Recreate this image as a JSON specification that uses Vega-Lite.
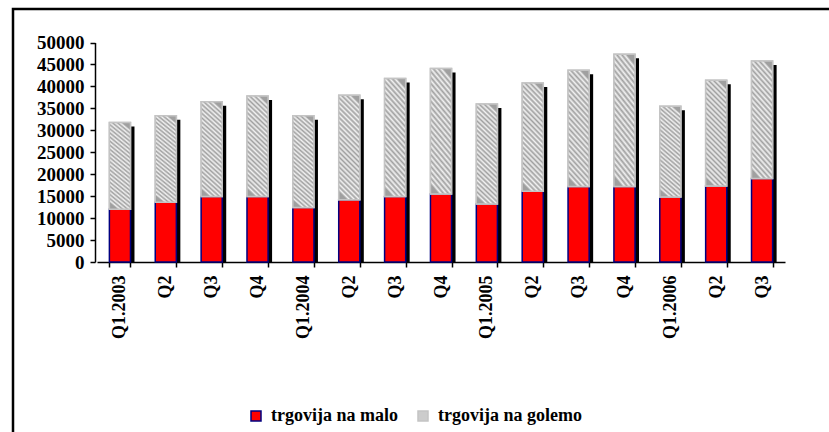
{
  "$schema": "https://vega.github.io/schema/vega-lite/v6.json",
  "width": 820,
  "height": 427,
  "autosize": {"type": "none"},
  "padding": {"left": 13, "top": 9, "right": -4, "bottom": -4},
  "background": "white",
  "config": {
    "view": {"stroke": "black", "strokeWidth": 2.5},
    "axis": {
      "domainColor": "black",
      "domainWidth": 1.5,
      "tickColor": "black",
      "tickWidth": 1.5,
      "tickSize": 5,
      "labelColor": "black",
      "labelFont": "Liberation Serif",
      "labelFontWeight": "bold",
      "titleOpacity": 0,
      "titleFontSize": 1,
      "grid": false
    }
  },
  "data": {
    "values": [
      {"quarter": "Q1.2003", "series": "trgovija na malo", "value": 12000},
      {"quarter": "Q1.2003", "series": "trgovija na golemo", "value": 19800},
      {"quarter": "Q2.2003", "series": "trgovija na malo", "value": 13600},
      {"quarter": "Q2.2003", "series": "trgovija na golemo", "value": 19700},
      {"quarter": "Q3.2003", "series": "trgovija na malo", "value": 14900},
      {"quarter": "Q3.2003", "series": "trgovija na golemo", "value": 21600},
      {"quarter": "Q4.2003", "series": "trgovija na malo", "value": 14900},
      {"quarter": "Q4.2003", "series": "trgovija na golemo", "value": 22900},
      {"quarter": "Q1.2004", "series": "trgovija na malo", "value": 12400},
      {"quarter": "Q1.2004", "series": "trgovija na golemo", "value": 20900},
      {"quarter": "Q2.2004", "series": "trgovija na malo", "value": 14200},
      {"quarter": "Q2.2004", "series": "trgovija na golemo", "value": 23800},
      {"quarter": "Q3.2004", "series": "trgovija na malo", "value": 14900},
      {"quarter": "Q3.2004", "series": "trgovija na golemo", "value": 26900},
      {"quarter": "Q4.2004", "series": "trgovija na malo", "value": 15500},
      {"quarter": "Q4.2004", "series": "trgovija na golemo", "value": 28600},
      {"quarter": "Q1.2005", "series": "trgovija na malo", "value": 13200},
      {"quarter": "Q1.2005", "series": "trgovija na golemo", "value": 22800},
      {"quarter": "Q2.2005", "series": "trgovija na malo", "value": 16100},
      {"quarter": "Q2.2005", "series": "trgovija na golemo", "value": 24700},
      {"quarter": "Q3.2005", "series": "trgovija na malo", "value": 17200},
      {"quarter": "Q3.2005", "series": "trgovija na golemo", "value": 26500},
      {"quarter": "Q4.2005", "series": "trgovija na malo", "value": 17200},
      {"quarter": "Q4.2005", "series": "trgovija na golemo", "value": 30100},
      {"quarter": "Q1.2006", "series": "trgovija na malo", "value": 14800},
      {"quarter": "Q1.2006", "series": "trgovija na golemo", "value": 20700},
      {"quarter": "Q2.2006", "series": "trgovija na malo", "value": 17300},
      {"quarter": "Q2.2006", "series": "trgovija na golemo", "value": 24100},
      {"quarter": "Q3.2006", "series": "trgovija na malo", "value": 19000},
      {"quarter": "Q3.2006", "series": "trgovija na golemo", "value": 26800}
    ]
  },
  "transform": [
    {"stack": "value", "groupby": ["quarter"], "sort": [{"field": "series", "order": "descending"}], "as": ["v0", "v1"]}
  ],
  "layer": [
    {
      "transform": [{"filter": "datum.series == 'trgovija na golemo'"}],
      "mark": {"type": "bar", "color": "black", "xOffset": 4, "yOffset": 4, "y2Offset": 0},
      "encoding": {
        "x": {
          "field": "quarter", "type": "nominal", "sort": null, "title": "",
          "scale": {"range": [84, 772], "paddingInner": 0.54, "paddingOuter": 0.27},
          "axis": {
            "title": null,
            "offset": -174,
            "labelAngle": -90,
            "labelAlign": "right",
            "labelBaseline": "middle",
            "labelFontSize": 18,
            "labelPadding": 8,
            "tickBand": "extent",
            "labelExpr": "isString(datum.value) ? (substring(datum.value,0,2) == 'Q1' ? datum.value : substring(datum.value,0,2)) : ''"
          }
        },
        "y": {
          "field": "v1", "type": "quantitative", "title": "",
          "scale": {"domain": [0, 50000], "range": [253, 33.5], "nice": false, "zero": true},
          "axis": {
            "title": null,
            "offset": -82,
            "values": [0, 5000, 10000, 15000, 20000, 25000, 30000, 35000, 40000, 45000, 50000],
            "format": "d",
            "labelFontSize": 19,
            "labelPadding": 6
          }
        },
        "y2": {"datum": 0}
      }
    },
    {
      "mark": {"type": "bar", "strokeWidth": 1.5},
      "encoding": {
        "x": {"field": "quarter", "type": "nominal", "sort": null, "title": ""},
        "y": {"field": "v1", "type": "quantitative", "title": ""},
        "y2": {"field": "v0", "title": ""},
        "color": {
          "field": "series", "type": "nominal",
          "scale": {"domain": ["trgovija na malo", "trgovija na golemo"], "range": ["#ff0000", "#cccccc"]},
          "legend": {
            "title": null, "orient": "none", "legendX": 234, "legendY": 398,
            "direction": "horizontal", "symbolType": "square", "symbolSize": 100,
            "symbolStrokeWidth": 1.5, "labelFont": "Liberation Serif", "labelFontSize": 18,
            "labelFontWeight": "bold", "labelColor": "black", "columnPadding": 16, "labelOffset": 6
          }
        },
        "stroke": {
          "field": "series", "type": "nominal",
          "scale": {"domain": ["trgovija na malo", "trgovija na golemo"], "range": ["#000080", "#c4c4c4"]},
          "legend": {
            "title": null, "orient": "none", "legendX": 234, "legendY": 398,
            "direction": "horizontal", "symbolType": "square", "symbolSize": 100,
            "symbolStrokeWidth": 1.5, "labelFont": "Liberation Serif", "labelFontSize": 18,
            "labelFontWeight": "bold", "labelColor": "black", "columnPadding": 16, "labelOffset": 6
          }
        }
      }
    },
    {
      "transform": [{"filter": "datum.series == 'trgovija na golemo'"}],
      "mark": {
        "type": "bar",
        "stroke": "#c4c4c4",
        "strokeWidth": 1.5,
        "fill": {
          "gradient": "linear", "x1": 0.6, "y1": 0, "x2": 0.4, "y2": 1,
          "stops": [
            {"offset": 0, "color": "#a0a0a0"},
            {"offset": 0.0227, "color": "#f2f2f2"},
            {"offset": 0.0455, "color": "#a0a0a0"},
            {"offset": 0.0682, "color": "#f2f2f2"},
            {"offset": 0.0909, "color": "#a0a0a0"},
            {"offset": 0.1136, "color": "#f2f2f2"},
            {"offset": 0.1364, "color": "#a0a0a0"},
            {"offset": 0.1591, "color": "#f2f2f2"},
            {"offset": 0.1818, "color": "#a0a0a0"},
            {"offset": 0.2045, "color": "#f2f2f2"},
            {"offset": 0.2273, "color": "#a0a0a0"},
            {"offset": 0.25, "color": "#f2f2f2"},
            {"offset": 0.2727, "color": "#a0a0a0"},
            {"offset": 0.2955, "color": "#f2f2f2"},
            {"offset": 0.3182, "color": "#a0a0a0"},
            {"offset": 0.3409, "color": "#f2f2f2"},
            {"offset": 0.3636, "color": "#a0a0a0"},
            {"offset": 0.3864, "color": "#f2f2f2"},
            {"offset": 0.4091, "color": "#a0a0a0"},
            {"offset": 0.4318, "color": "#f2f2f2"},
            {"offset": 0.4545, "color": "#a0a0a0"},
            {"offset": 0.4773, "color": "#f2f2f2"},
            {"offset": 0.5, "color": "#a0a0a0"},
            {"offset": 0.5227, "color": "#f2f2f2"},
            {"offset": 0.5455, "color": "#a0a0a0"},
            {"offset": 0.5682, "color": "#f2f2f2"},
            {"offset": 0.5909, "color": "#a0a0a0"},
            {"offset": 0.6136, "color": "#f2f2f2"},
            {"offset": 0.6364, "color": "#a0a0a0"},
            {"offset": 0.6591, "color": "#f2f2f2"},
            {"offset": 0.6818, "color": "#a0a0a0"},
            {"offset": 0.7045, "color": "#f2f2f2"},
            {"offset": 0.7273, "color": "#a0a0a0"},
            {"offset": 0.75, "color": "#f2f2f2"},
            {"offset": 0.7727, "color": "#a0a0a0"},
            {"offset": 0.7955, "color": "#f2f2f2"},
            {"offset": 0.8182, "color": "#a0a0a0"},
            {"offset": 0.8409, "color": "#f2f2f2"},
            {"offset": 0.8636, "color": "#a0a0a0"},
            {"offset": 0.8864, "color": "#f2f2f2"},
            {"offset": 0.9091, "color": "#a0a0a0"},
            {"offset": 0.9318, "color": "#f2f2f2"},
            {"offset": 0.9545, "color": "#a0a0a0"},
            {"offset": 0.9773, "color": "#f2f2f2"},
            {"offset": 1, "color": "#a0a0a0"}
          ]
        }
      },
      "encoding": {
        "x": {"field": "quarter", "type": "nominal", "sort": null, "title": ""},
        "y": {"field": "v1", "type": "quantitative", "title": ""},
        "y2": {"field": "v0", "title": ""}
      }
    }
  ]
}
